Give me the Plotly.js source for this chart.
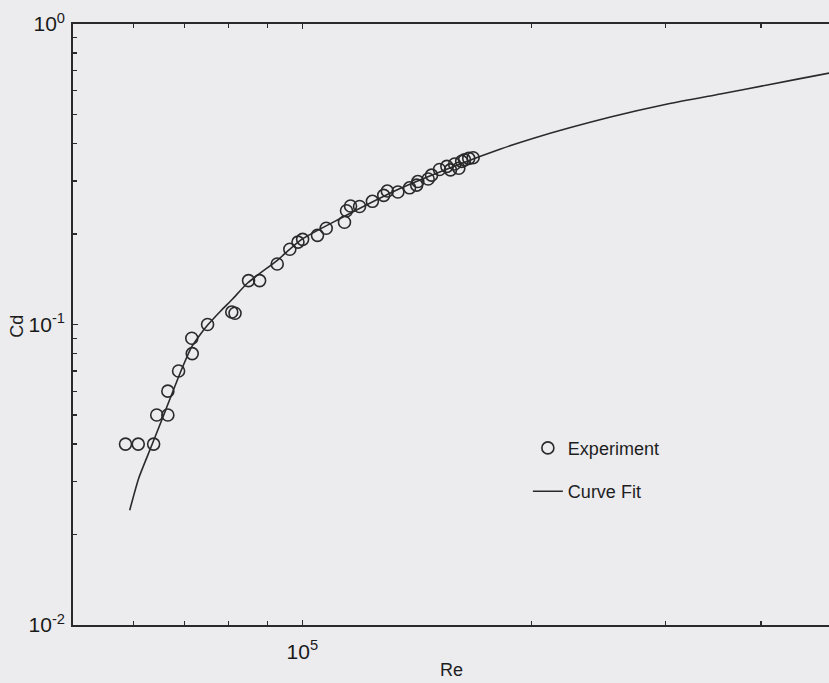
<!DOCTYPE html>
<html><head><meta charset="utf-8">
<script src="https://cdn.plot.ly/plotly-3.0.1.min.js"></script>
<style>
html,body{margin:0;padding:0;overflow:hidden;background:#ececef;width:829px;height:683px}
#chart{width:1100px;height:683px}
</style>
</head><body><div id="chart"></div>
<script>
// Experiment data (Re, Cd)
const reExp = [58600, 60900, 63800, 64400, 66600, 66600, 68800, 71700, 71600, 75100, 80800, 81600, 85000, 87900, 92700, 96300, 98700, 100100, 104700, 107500, 113600, 114300, 115700, 118900, 123600, 127900, 129300, 133500, 138300, 141300, 141800, 146300, 147800, 151400, 154800, 156500, 158500, 160500, 161900, 163300, 165400, 167600];
const cdExp = [0.040, 0.040, 0.040, 0.050, 0.050, 0.060, 0.070, 0.080, 0.090, 0.100, 0.110, 0.109, 0.140, 0.140, 0.159, 0.178, 0.188, 0.192, 0.198, 0.209, 0.219, 0.239, 0.248, 0.247, 0.257, 0.269, 0.278, 0.276, 0.285, 0.291, 0.299, 0.305, 0.314, 0.328, 0.336, 0.327, 0.342, 0.331, 0.349, 0.353, 0.357, 0.359];

// Curve fit
const reFit = [59350, 60990, 63230, 66160, 69210, 71570, 73540, 75120, 78140, 81000, 84760, 92810, 99500, 112300, 134600, 159900, 182100, 201200, 253900, 301600, 353900, 407900, 492000, 609500];
const cdFit = [0.0241, 0.0308, 0.0388, 0.0519, 0.0695, 0.0842, 0.0930, 0.0996, 0.1109, 0.1216, 0.1374, 0.1639, 0.1910, 0.2256, 0.2839, 0.3395, 0.3837, 0.417, 0.4903, 0.5418, 0.5850, 0.6266, 0.6869, 0.759];

// Ticks
const xTickVals = [100000];
const xTickText = ['10<sup>5</sup>'];
const xMinorVals = [60000, 70000, 80000, 90000, 200000, 300000, 400000, 500000, 600000, 700000, 800000, 900000];
const yTickVals = [0.01, 0.1, 1];
const yTickText = ['10<sup>-2</sup>', '10<sup>-1</sup>', '10<sup>0</sup>'];
const yMinorVals = [0.02, 0.03, 0.04, 0.05, 0.06, 0.07, 0.08, 0.09, 0.2, 0.3, 0.4, 0.5, 0.6, 0.7, 0.8, 0.9];

const ink = '#2a2a2a';
const bg = '#ececef';

const traces = [
  {
    x: reExp, y: cdExp, name: 'Experiment', type: 'scatter', mode: 'markers',
    legendgroup: 'a',
    marker: {symbol: 'circle-open', size: 12, color: ink, line: {color: ink, width: 1.6}}
  },
  {
    x: reFit, y: cdFit, name: 'Curve Fit', type: 'scatter', mode: 'lines',
    legendgroup: 'b',
    line: {color: ink, width: 1.6, shape: 'spline', smoothing: 0.6}
  }
];

const axisCommon = {
  type: 'log', ticks: 'inside', ticklen: 5, tickwidth: 1.3, tickcolor: ink,
  showline: true, linecolor: ink, linewidth: 1.8, mirror: 'ticks',
  showgrid: false, zeroline: false,
  tickfont: {size: 21, color: '#1a1a1a', family: 'Liberation Sans, Arial, sans-serif'}
};

const layout = {
  width: 1100, height: 683,
  margin: {l: 73, r: 36, t: 24, b: 58},
  paper_bgcolor: bg, plot_bgcolor: bg,
  font: {family: 'Liberation Sans, Arial, sans-serif', color: '#1e1e1e', size: 18},
  xaxis: Object.assign({}, axisCommon, {
    range: [Math.log10(50000), 6], tickmode: 'array', tickvals: xTickVals, ticktext: xTickText,
    ticklabelstandoff: 7,
    minor: {tickmode: 'array', tickvals: xMinorVals, ticks: 'inside', ticklen: 4, tickwidth: 1.3, tickcolor: ink, showgrid: false}
  }),
  yaxis: Object.assign({}, axisCommon, {
    range: [-2, 0], tickmode: 'array', tickvals: yTickVals, ticktext: yTickText,
    ticklabelstandoff: 2,
    minor: {tickmode: 'array', tickvals: yMinorVals, ticks: 'inside', ticklen: 4, tickwidth: 1.3, tickcolor: ink, showgrid: false}
  }),
  showlegend: true,
  legend: {
    x: 0.459, y: 0.325, xanchor: 'left', yanchor: 'top',
    bgcolor: 'rgba(0,0,0,0)', font: {size: 18, color: '#1e1e1e'},
    tracegroupgap: 17, traceorder: 'grouped'
  },
  annotations: [
    {text: 'Re', xref: 'paper', yref: 'paper', x: 0.382, y: -0.075, xanchor: 'center', yanchor: 'middle',
     showarrow: false, font: {size: 18, color: '#1e1e1e'}},
    {text: 'Cd', xref: 'paper', yref: 'paper', x: -0.056, y: 0.497, xanchor: 'center', yanchor: 'middle',
     textangle: -90, showarrow: false, font: {size: 18, color: '#1e1e1e'}}
  ]
};

Plotly.newPlot('chart', traces, layout, {displayModeBar: false, staticPlot: true});
</script>
</body></html>
